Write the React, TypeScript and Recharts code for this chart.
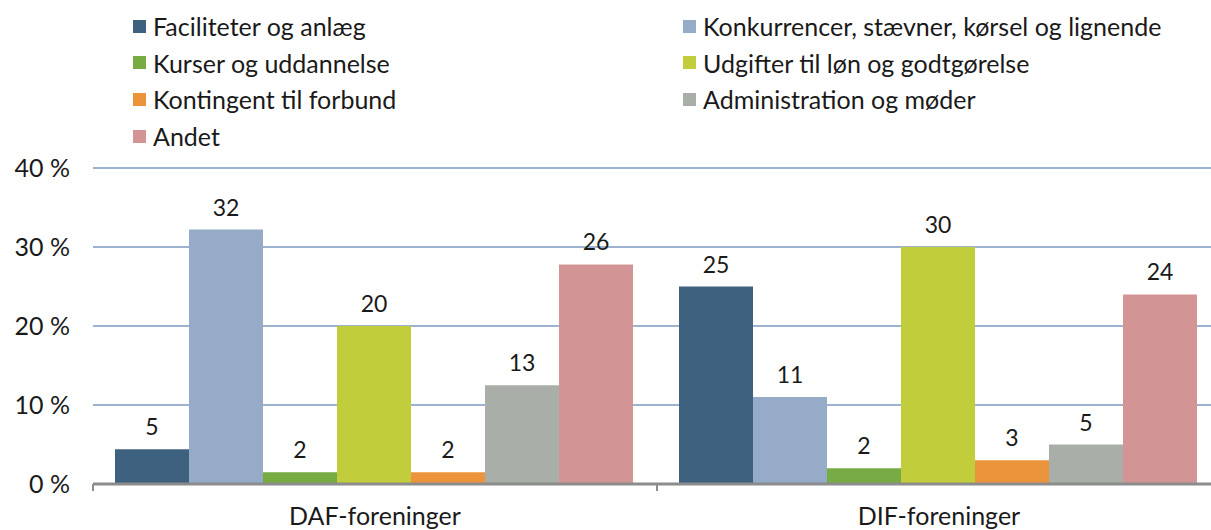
import { Bar, BarChart, CartesianGrid, LabelList, Legend, XAxis, YAxis } from "recharts";

const categories = ["DAF-foreninger", "DIF-foreninger"];

// bar heights (in %)
const faciliteter = [4.4, 25];
const konkurrencer = [32.2, 11];
const kurser = [1.5, 2];
const udgifter = [20, 30];
const kontingent = [1.5, 3];
const administration = [12.5, 5];
const andet = [27.8, 24];

// printed value labels (as shown above the bars)
const faciliteterLabels = [5, 25];
const konkurrencerLabels = [32, 11];
const kurserLabels = [2, 2];
const udgifterLabels = [20, 30];
const kontingentLabels = [2, 3];
const administrationLabels = [13, 5];
const andetLabels = [26, 24];

const yTicks = [0, 10, 20, 30, 40];

const series = [
  { key: "fac", name: "Faciliteter og anlæg", values: faciliteter, labels: faciliteterLabels, color: "#3f6180" },
  { key: "kon", name: "Konkurrencer, stævner, kørsel og lignende", values: konkurrencer, labels: konkurrencerLabels, color: "#95abc8" },
  { key: "kur", name: "Kurser og uddannelse", values: kurser, labels: kurserLabels, color: "#77ab43" },
  { key: "udg", name: "Udgifter til løn og godtgørelse", values: udgifter, labels: udgifterLabels, color: "#c1cd3a" },
  { key: "kont", name: "Kontingent til forbund", values: kontingent, labels: kontingentLabels, color: "#ec943b" },
  { key: "adm", name: "Administration og møder", values: administration, labels: administrationLabels, color: "#a9aea8" },
  { key: "and", name: "Andet", values: andet, labels: andetLabels, color: "#d39495" },
];

const data = categories.map((name, i) => {
  const row: any = { name };
  series.forEach((s) => {
    row[s.key] = s.values[i];
    row[s.key + "Label"] = s.labels[i];
  });
  return row;
});

const FONT = "Lato, 'Open Sans', sans-serif";

const renderLegend = () => (
  <div
    style={{
      display: "grid",
      gridTemplateColumns: "550px 520px",
      paddingLeft: 133,
      paddingTop: 8,
      fontFamily: FONT,
      fontSize: 25,
      color: "#1a1a1a",
    }}
  >
    {series.map((s) => (
      <div key={s.key} style={{ display: "flex", alignItems: "center", height: 36.6, whiteSpace: "nowrap" }}>
        <span style={{ width: 13, height: 13, background: s.color, display: "inline-block", marginRight: 7 }} />
        <span>{s.name}</span>
      </div>
    ))}
  </div>
);

const CategoryTick = (props: any) => {
  const { x, y, payload, index, width, visibleTicksCount } = props;
  const band = width / visibleTicksCount;
  return (
    <g>
      <line x1={x - band / 2} x2={x - band / 2} y1={y} y2={y + 7} stroke="#8c8c8c" strokeWidth={2} />
      {index === visibleTicksCount - 1 && (
        <line x1={x + band / 2} x2={x + band / 2} y1={y} y2={y + 7} stroke="#8c8c8c" strokeWidth={2} />
      )}
      <text x={x} y={y + 41} textAnchor="middle" fontFamily={FONT} fontSize={25} fill="#1a1a1a">
        {payload.value}
      </text>
    </g>
  );
};

export default function App() {
  return (
    <div style={{ position: "absolute", left: 0, top: 0, width: 1211, height: 530, overflow: "hidden", background: "#fff" }}>
      <BarChart
        width={1240}
        height={530}
        data={data}
        margin={{ top: 168, right: 19, bottom: 6, left: 0 }}
        barCategoryGap={22}
        barGap={0}
      >
        <CartesianGrid horizontal vertical={false} stroke="#9cb2cf" strokeWidth={2} />
        <YAxis
          domain={[0, 40]}
          ticks={yTicks}
          width={93}
          axisLine={false}
          tickLine={false}
          tickMargin={17}
          tickFormatter={(v) => `${v} %`}
          tick={{ fontFamily: FONT, fontSize: 25, fill: "#1a1a1a" }}
        />
        <XAxis
          dataKey="name"
          height={40}
          axisLine={{ stroke: "#8c8c8c", strokeWidth: 3 }}
          tickLine={false}
          tickSize={0}
          tickMargin={0}
          interval={0}
          tick={<CategoryTick />}
        />
        <Legend
          layout="horizontal"
          verticalAlign="middle"
          align="center"
          wrapperStyle={{ top: 0, left: 0, width: 1240 }}
          content={renderLegend}
        />
        {series.map((s) => (
          <Bar key={s.key} dataKey={s.key} name={s.name} fill={s.color} isAnimationActive={false}>
            <LabelList
              dataKey={s.key + "Label"}
              position="top"
              offset={14}
              fontFamily={FONT}
              fontSize={23}
              fill="#1a1a1a"
            />
          </Bar>
        ))}
      </BarChart>
    </div>
  );
}
